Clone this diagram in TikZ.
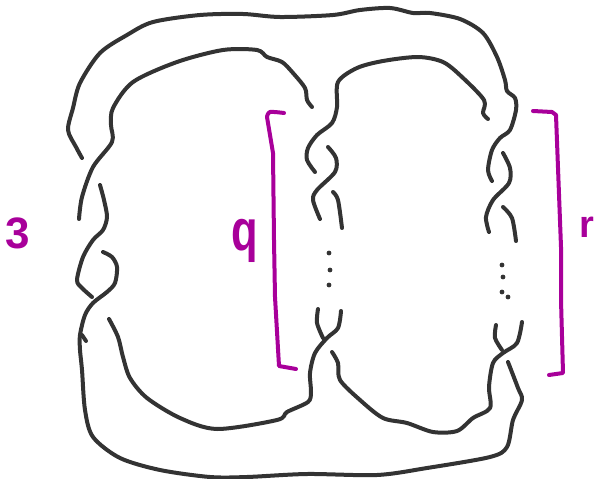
\documentclass[tikz,border=0pt]{standalone}
\usepackage{fontspec}
\setmainfont{Liberation Sans}
\definecolor{ink}{HTML}{333333}
\definecolor{mag}{HTML}{A8009A}
\tikzset{
  strand/.style={draw=ink,line width=4pt,line cap=round,line join=round},
  bracketline/.style={draw=mag,line width=4pt,line cap=round,line join=round},
  lab/.style={text=mag,inner sep=0pt},
  dotmark/.style={fill=ink,draw=none}
}
\newcommand{\curve}[2]{\draw[#1] plot[smooth,tension=0.5] coordinates {#2};}
\begin{document}
\begin{tikzpicture}[x=1pt,y=-1pt]
\useasboundingbox (0,0) rectangle (595,479);
% outer top strand
\curve{strand}{(82,158)(76,147)(68,130)(73,108)(80,83)(100,53)(127,35)(153,22)(200,15)(243,14)(280,17)(333,15)(360,10)(390,8)(413,13)(430,13)(460,19)(483,33)(497,57)(505,80)(507,91)(515,98)(516,110)(510,130)(500,138)(492,150)(488,170)(492,181)}
% inner left arc
\curve{strand}{(312,107)(307,100)(305,88)(293,73)(282,62)(267,57)(257,50)(223,50)(177,62)(133,82)(113,108)(111,125)(112,142)(93,167)(82,197)(79,219)}
% left column
\curve{strand}{(100,185)(104,200)(107,217)(103,230)(93,240)(83,257)(77,280)(82,288)(92,297)}
\curve{strand}{(103,252)(112,257)(117,267)(115,283)(107,292)(93,303)(85,315)(80,335)(80,350)(82,370)(85,410)(93,437)(120,458)(160,470)(210,477)(247,477)(307,474)(377,475)(427,468)(490,457)(507,447)(513,420)(522,400)(518,388)(508,362)}
\curve{strand}{(82,335)(86,341)}
\curve{strand}{(109,319)(118,337)(123,357)(130,378)(147,398)(180,418)(217,429)(277,420)(287,412)(308,402)(311,392)(310,373)(315,353)(327,338)(338,328)(341,311)}
% middle column
\curve{strand}{(318,309)(317,323)(323,338)}
\curve{strand}{(332,352)(338,363)(340,380)(360,400)(383,418)(407,423)(433,432)(457,431)(473,418)(490,408)(489,387)(493,363)(503,353)(517,343)(522,322)}
\curve{strand}{(496,325)(495,338)(502,350)}
\curve{strand}{(488,119)(483,113)(484,100)(462,77)(443,62)(418,57)(383,61)(357,68)(338,82)(337,107)(332,123)(317,135)(308,148)(307,160)(315,172)}
\curve{strand}{(328,147)(336,158)(335,172)(317,190)(313,200)(320,219)}
\curve{strand}{(333,192)(338,200)(342,228)}
% right column
\curve{strand}{(503,153)(510,168)(509,183)(493,200)(486,217)(489,232)}
\curve{strand}{(503,207)(512,218)(516,241)}
% dots
\foreach \p in {(329,253),(330,270),(329,285),(502,265),(503,277),(502,292),(508,297)}
  \fill[dotmark] \p circle (2.4pt);
% brackets
\curve{bracketline}{(284,113)(270,112)(267,117)}
\draw[bracketline] (267,117) -- (273,153) -- (274,240) -- (275,297) -- (279,366) -- (296,369);
\draw[bracketline] (533,111) -- (552,112) -- (556,115) -- (561,247) -- (561,300) -- (563,373) -- (549,375);
% labels
\node[lab,font=\bfseries\fontsize{44}{44}\selectfont] (three) at (18,233) {3};
\node[lab,font=\bfseries\fontsize{58}{58}\selectfont,xscale=0.75,transform shape] (q) at (245,241) {q};
\node[lab,font=\bfseries\fontsize{38}{38}\selectfont] (r) at (587,227) {r};
\end{tikzpicture}
\end{document}
